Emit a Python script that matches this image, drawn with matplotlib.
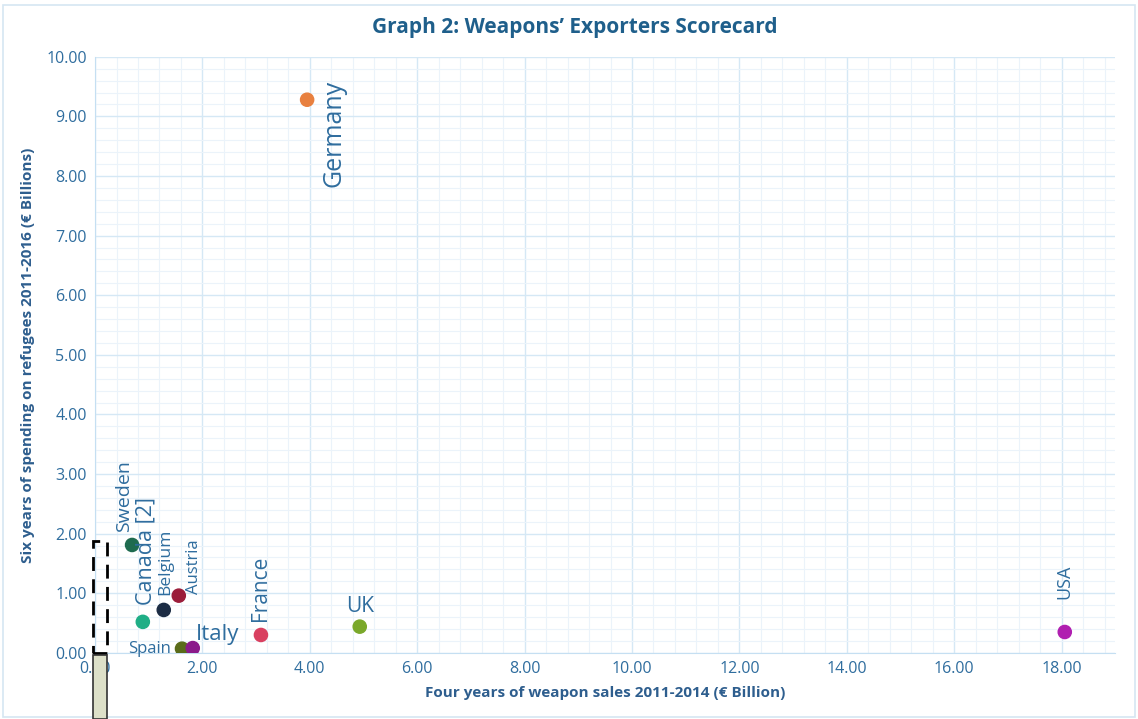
import matplotlib
matplotlib.use('Agg')
import matplotlib.pyplot as plt
from matplotlib.patches import Rectangle
from matplotlib.ticker import MultipleLocator, FormatStrFormatter

countries = ['Germany', 'Sweden', 'Canada [2]', 'Belgium', 'Austria', 'Spain', 'Italy', 'France', 'UK', 'USA']
weapon_sales = [3.95, 0.69, 0.89, 1.28, 1.56, 1.62, 1.82, 3.09, 4.93, 18.06]
refugee_spend = [9.28, 1.81, 0.52, 0.72, 0.96, 0.07, 0.08, 0.30, 0.44, 0.35]
colors = ['#e8803f', '#1e6b4f', '#1fae86', '#1c2c44', '#9b1d3a', '#5a6b1a', '#8b1a8a', '#d94060', '#7aa82a', '#b01fb0']

txt = '#2f6d9e'
plt.rcParams['font.family'] = ['Open Sans', 'DejaVu Sans']

fig = plt.figure(figsize=(11.38, 7.19), dpi=100)
fig.patches.append(Rectangle((0.003, 0.003), 0.994, 0.99, transform=fig.transFigure,
                             fill=False, edgecolor='#d6e6f2', lw=1.2))
ax = fig.add_axes([0.0835, 0.092, 0.8965, 0.829])

ax.scatter(weapon_sales, refugee_spend, s=90, c=colors, edgecolors=colors, zorder=3)

ax.set_xlim(0, 19)
ax.set_ylim(0, 10)
ax.xaxis.set_major_locator(MultipleLocator(2))
ax.xaxis.set_minor_locator(MultipleLocator(0.4))
ax.yaxis.set_major_locator(MultipleLocator(1))
ax.yaxis.set_minor_locator(MultipleLocator(0.2))
ax.xaxis.set_major_formatter(FormatStrFormatter('%.2f'))
ax.yaxis.set_major_formatter(FormatStrFormatter('%.2f'))
ax.grid(which='major', color='#d5e8f5', lw=1.0)
ax.grid(which='minor', color='#ebf3fa', lw=0.8)
ax.set_axisbelow(True)
ax.tick_params(which='both', length=0, colors=txt, labelsize=11.5, pad=6)
for s in ['top', 'right']:
    ax.spines[s].set_visible(False)
for s in ['left', 'bottom']:
    ax.spines[s].set_color('#c5dff2')

fig.text(0.505, 0.962, "Graph 2: Weapons\u2019 Exporters Scorecard", color='#1f5f8b',
         fontsize=15, fontweight='bold', ha='center', va='center')
ax.set_xlabel('Four years of weapon sales 2011-2014 (\u20ac Billion)', color='#2e5e8e',
              fontsize=11, fontweight='bold', labelpad=6)
ax.set_ylabel('Six years of spending on refugees 2011-2016 (\u20ac Billions)', color='#2e5e8e',
              fontsize=11, fontweight='bold', labelpad=8)

# labels: (dx, dy in points, rotation, size, ha, va)
lab = {
    'Germany': (10, 14, 90, 18, 'left', 'top'),
    'Sweden': (-5.5, 9.5, 90, 14, 'center', 'bottom'),
    'Canada [2]': (2, 12, 90, 15.5, 'center', 'bottom'),
    'Belgium': (1, 11, 90, 12.5, 'center', 'bottom'),
    'Austria': (5, 1, 90, 12, 'left', 'bottom'),
    'Spain': (-8, 0, 0, 12, 'right', 'center'),
    'Italy': (2, 2, 0, 16, 'left', 'bottom'),
    'France': (0, 10, 90, 15, 'center', 'bottom'),
    'UK': (0, 7, 0, 15, 'center', 'bottom'),
    'USA': (0, 24, 90, 13, 'center', 'bottom'),
}
for name, x, y in zip(countries, weapon_sales, refugee_spend):
    dx, dy, rot, fs, ha, va = lab[name]
    ax.annotate(name, (x, y), xytext=(dx, dy), textcoords='offset points',
                rotation=rot, fontsize=fs, color=txt, ha=ha, va=va)

# leftover shapes from the original sheet
fig.patches.append(Rectangle((93 / 1138, 1 - 653 / 719), 14 / 1138, 112 / 719,
                             transform=fig.transFigure, fill=False, edgecolor='black',
                             lw=2, ls=(0, (5, 3)), zorder=5))
fig.patches.append(Rectangle((93 / 1138, 0), 14 / 1138, 64 / 719,
                             transform=fig.transFigure, facecolor='#dde0c8',
                             edgecolor='#333333', lw=1.2, zorder=5))

fig.savefig('out.png', dpi=100)
